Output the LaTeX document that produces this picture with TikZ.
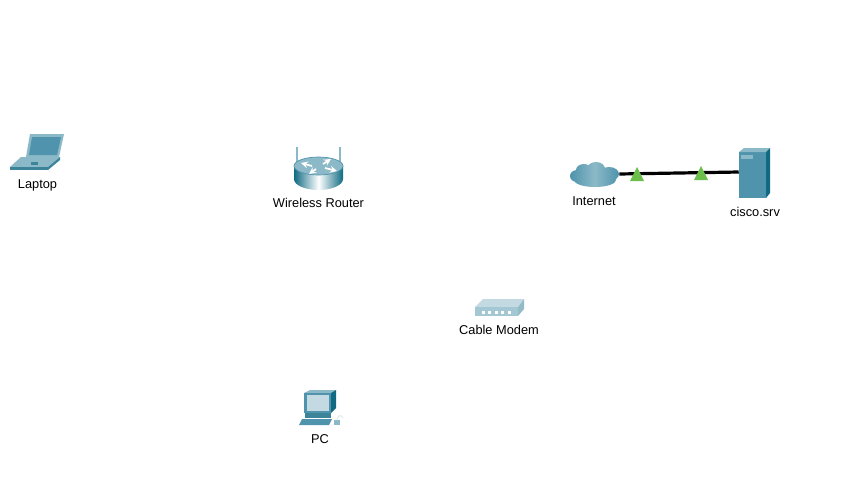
\documentclass[tikz,border=0pt]{standalone}
\usepackage{fontspec}
\setmainfont{Liberation Sans}
\usetikzlibrary{positioning}
\definecolor{tealmid}{HTML}{4F93AC}
\definecolor{tealdark}{HTML}{3B8499}
\definecolor{teallight}{HTML}{8CB9C8}
\definecolor{tealdeep}{HTML}{0F6A82}
\definecolor{modemlight}{HTML}{C4DAE2}
\definecolor{modemside}{HTML}{94BBC8}
\definecolor{linkgreen}{HTML}{6CBF4B}
\begin{document}
\begin{tikzpicture}[x=0.75pt,y=-0.75pt,
        devlabel/.style={font=\fontsize{9.6}{11}\selectfont,inner sep=0pt,text=black},
        anchorbox/.style={inner sep=0pt,minimum width=#1,minimum height=1pt},
        linkdot/.style={fill=linkgreen,draw=none}]
    \useasboundingbox (0,0) rectangle (852,500);
    \fill[white] (0,0) rectangle (852,500);
    % laptop
    \fill[teallight] (30,134) -- (64,134) -- (59,157) -- (26,157) -- cycle;
    \fill[tealmid] (32,137) -- (61,137) -- (57,155) -- (29,155) -- cycle;
    \fill[teallight] (21,157) -- (60,157) -- (48,167) -- (10,167) -- cycle;
    \fill[tealdark] (10,167) -- (48,167) -- (48,170) -- (10,170) -- cycle;
    \fill[tealdark] (48,167) -- (60,157) -- (60,160) -- (48,170) -- cycle;
    \fill[tealdark] (31,162) rectangle (38,165);
    % router
    \draw[teallight,line width=1.6pt] (297,147) -- (297,162) (340,147) -- (340,162);
    \shade[left color=tealdeep,right color=tealdeep,middle color=white]
        (294,166) -- (294,179) arc[start angle=180,end angle=0,x radius=24.5,y radius=11] -- (343,166) -- cycle;
    \fill[teallight,draw=tealmid,line width=0.5pt] (318.5,166) ellipse[x radius=24.5,y radius=9];
    \draw[white,line width=1.3pt,->,>=stealth] (312,166) -- (301,163);
    \draw[white,line width=1.3pt,->,>=stealth] (323,164) -- (331,159);
    \draw[white,line width=1.3pt,->,>=stealth] (325,168) -- (337,171);
    \draw[white,line width=1.3pt,->,>=stealth] (316,169) -- (309,174);
    % cloud
    \shade[left color=tealmid,right color=tealmid,middle color=teallight]
        (577,176) ellipse[x radius=7,y radius=6]
        (584,170) ellipse[x radius=8,y radius=6]
        (596,169) ellipse[x radius=9,y radius=7]
        (609,174) ellipse[x radius=10,y radius=7]
        (595,180) ellipse[x radius=21,y radius=7];
    % server
    \fill[tealmid] (739,152) rectangle (766,198);
    \fill[teallight] (739,152) -- (744,148) -- (770,148) -- (766,152) -- cycle;
    \fill[tealdeep] (766,152) -- (770,148) -- (770,193) -- (766,198) -- cycle;
    \fill[teallight] (741,155) rectangle (753,159);
    % modem
    \fill[modemlight] (475,307) -- (483,299) -- (524,299) -- (518,307) -- cycle;
    \fill[modemside] (518,307) -- (524,299) -- (524,309) -- (518,316) -- cycle;
    \fill[teallight!80!white] (475,307) rectangle (518,316);
    \foreach \i in {0,1,2,3,4}
        \fill[white] (481.5+6.5*\i,310.5) rectangle +(3,3);
    % pc
    \fill[teallight] (304,393) -- (310,390) -- (336,390) -- (331,393) -- cycle;
    \fill[tealmid] (304,393) rectangle (331,413);
    \fill[tealdeep] (331,393) -- (336,390) -- (336,408) -- (331,413) -- cycle;
    \fill[modemlight] (307,395) rectangle (329,411);
    \fill[tealdark] (305,413) rectangle (331,418);
    \fill[tealmid] (302,419) -- (332,419) -- (329,425) -- (299,425) -- cycle;
    \fill[teallight] (334,420) rectangle (340,425);
    \draw[white!70!teallight,line width=0.7pt] (337,420) .. controls (338,415) and (341,414) .. (343,418);
    % labels
    \node[devlabel] (laptop) at (37.5,185) {Laptop};
    \node[devlabel] (router) at (318.5,203) {Wireless Router};
    \node[devlabel] (inetlabel) at (594,201) {Internet};
    \node[devlabel] (srvlabel) at (755,212) {cisco.srv};
    \node[devlabel] (modem) at (499,330) {Cable Modem};
    \node[devlabel] (pc) at (320,439) {PC};
    % link
    \node[anchorbox=0pt] (internet) at (619,174) {};
    \node[anchorbox=0pt] (ciscosrv) at (739,172) {};
    \draw[black,line width=2.4pt] (internet) -- (ciscosrv);
    \fill[linkdot] (637,167) -- (644,181) -- (630,181) -- cycle;
    \fill[linkdot] (701,166) -- (708,180) -- (694,180) -- cycle;
\end{tikzpicture}
\end{document}
